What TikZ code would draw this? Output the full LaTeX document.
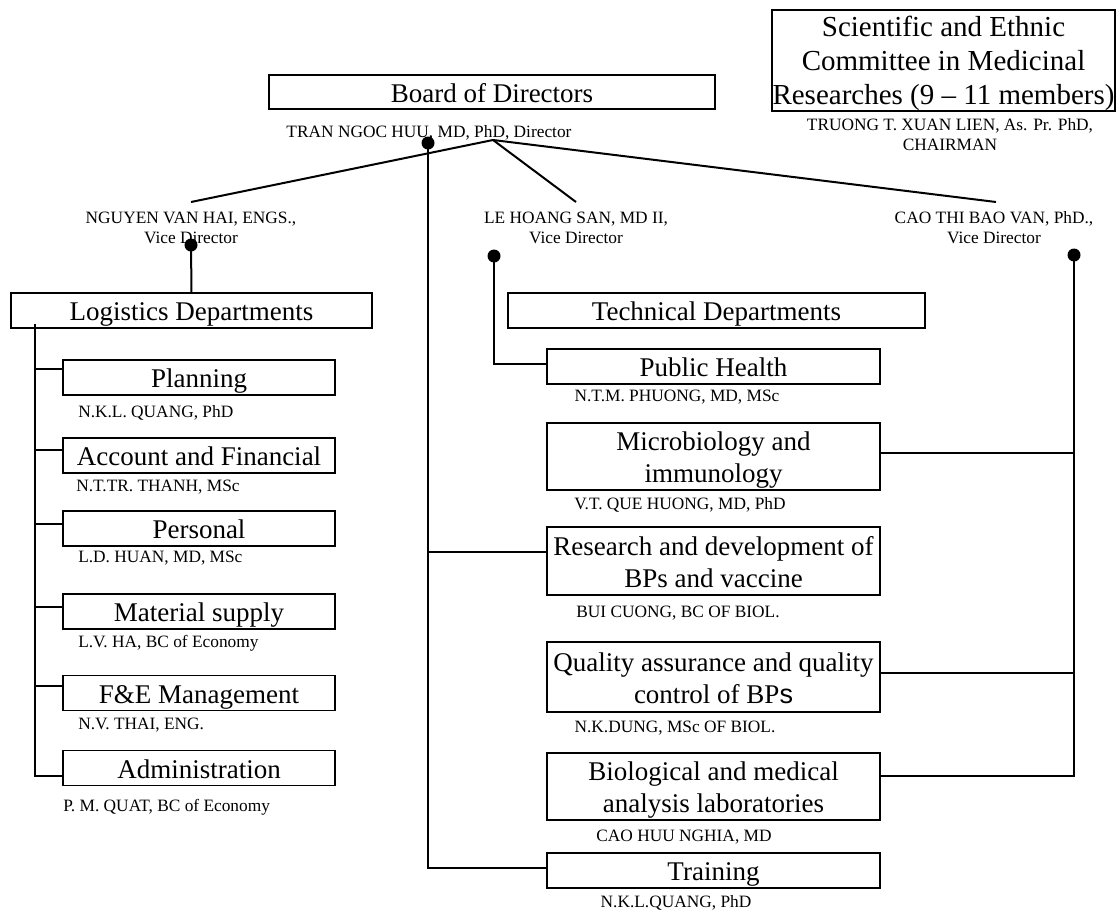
\documentclass[tikz,border=0pt]{standalone}
\usepackage{fontspec}
\setmainfont{Liberation Serif}
\newfontfamily\sansf{Liberation Sans}
\newcommand{\boxfont}{\fontsize{20.25pt}{24pt}\selectfont}
\newcommand{\comfont}{\fontsize{21.75pt}{25.5pt}\selectfont}
\newcommand{\lblfont}{\fontsize{13pt}{15pt}\selectfont}
\newcommand{\tstr}{\leavevmode\vrule width 0pt height 20.5pt depth 0pt\relax}
\newcommand{\bstr}{\vrule width 0pt height 0pt depth 5pt\relax}
\newcommand{\ctstr}{\leavevmode\vrule width 0pt height 20pt depth 0pt\relax}
\begin{document}
\begin{tikzpicture}[x=0.75pt,y=-0.75pt,
  bx/.style 2 args={draw=black, line width=0.9pt, minimum width=#1*0.75pt,
    minimum height=#2*0.75pt, inner sep=0pt, align=center, font=\boxfont},
  lbl/.style={inner sep=0pt, align=center, font=\lblfont},
  jdot/.style={circle, fill=black, inner sep=0pt, minimum size=9.75pt},
  conn/.style={line width=1.5pt}]
\useasboundingbox (0,0) rectangle (1117,910);
\fill[white] (0,0) rectangle (1117,910);

% top
\node[bx={446}{34}] (board) at (492,92) {\tstr\bstr Board of Directors};
\node[bx={343}{101}, font=\comfont] (committee) at (943.5,60.5)
  {\ctstr Scientific and Ethnic\\Committee in Medicinal\\Researches (9 – 11 members)};
\node[lbl] (chair) at (950,135) {TRUONG T. XUAN LIEN, As. Pr. PhD,\\CHAIRMAN};
\node[lbl] (director) at (429,133) {TRAN NGOC HUU, MD, PhD, Director};
\node[lbl] (vd1) at (191,228) {NGUYEN VAN HAI, ENGS.,\\Vice Director};
\node[lbl] (vd2) at (576,228) {LE HOANG SAN, MD II,\\Vice Director};
\node[lbl] (vd3) at (994,228) {CAO THI BAO VAN, PhD.,\\Vice Director};

% logistics
\node[bx={361}{35}] (logistics) at (191.5,310.5) {\tstr\bstr Logistics Departments};
\node[bx={272}{35}] (planning) at (199,377.5) {\tstr\bstr Planning};
\node[bx={272}{35}] (account) at (199,455.5) {\tstr\bstr Account and Financial};
\node[bx={272}{35}] (personal) at (199,528.5) {\tstr\bstr Personal};
\node[bx={272}{35}] (material) at (199,611.5) {\tstr\bstr Material supply};
\node[bx={272}{35}] (fe) at (199,693) {\tstr\bstr F\&E Management};
\node[bx={272}{35}] (admin) at (199,768) {\tstr\bstr Administration};
\node[lbl,anchor=west] (lplan) at (78,413) {N.K.L. QUANG, PhD};
\node[lbl,anchor=west] (lacc) at (76,487) {N.T.TR. THANH, MSc};
\node[lbl,anchor=west] (lpers) at (78,558) {L.D. HUAN, MD, MSc};
\node[lbl,anchor=west] (lmat) at (78,643) {L.V. HA, BC of Economy};
\node[lbl,anchor=west] (lfe) at (78,725) {N.V. THAI, ENG.};
\node[lbl,anchor=west] (ladm) at (63,807) {P. M. QUAT, BC of Economy};

% technical
\node[bx={417}{35}] (technical) at (716.5,310.5) {\tstr\bstr Technical Departments};
\node[bx={333}{35}] (public) at (713.5,366.5) {\tstr\bstr Public Health};
\node[bx={333}{67}] (micro) at (713.5,456.5) {\tstr Microbiology and\\immunology\bstr};
\node[bx={333}{68}] (research) at (713.5,561) {\tstr Research and development of\\BPs and vaccine\bstr};
\node[bx={333}{70}] (quality) at (713.5,677) {\tstr Quality assurance and quality\\control of BP{\sansf s}\bstr};
\node[bx={333}{67}] (bio) at (713.5,786.5) {\tstr Biological and medical\\analysis laboratories\bstr};
\node[bx={333}{35}] (training) at (713.5,870.5) {\tstr\bstr Training};
\node[lbl] (lpub) at (677,397) {N.T.M. PHUONG, MD, MSc};
\node[lbl] (lmic) at (680,505) {V.T. QUE HUONG, MD, PhD};
\node[lbl] (lres) at (678,613) {BUI CUONG, BC OF BIOL.};
\node[lbl] (lqua) at (675,728) {N.K.DUNG, MSc OF BIOL.};
\node[lbl] (lbio) at (684,837) {CAO HUU NGHIA, MD};
\node[lbl] (ltra) at (676,903) {N.K.L.QUANG, PhD};

% dots and coordinates
\node[jdot] (ddot) at (428,143) {};
\node[jdot] (ndot) at (191,245) {};
\node[jdot] (ldot) at (494,256) {};
\node[jdot] (cdot) at (1074,255) {};
\coordinate (hub) at (493,140);
\coordinate (e1) at (191,202);
\coordinate (e2) at (576,202);
\coordinate (e3) at (996,202);
\coordinate (ltop) at (35,324);

% connectors
\draw[conn] (hub) -- (e1);
\draw[conn] (hub) -- (e2);
\draw[conn] (hub) -- (e3);
\draw[conn] (ndot.center) -- (logistics.north);
\draw[conn] (ltop) |- ([yshift=6.4pt]planning.west);
\draw[conn] (ltop) |- ([yshift=4.1pt]account.west);
\draw[conn] (ltop) |- ([yshift=3.4pt]personal.west);
\draw[conn] (ltop) |- ([yshift=3.4pt]material.west);
\draw[conn] (ltop) |- ([yshift=5.25pt]fe.west);
\draw[conn] (ltop) |- ([yshift=-6pt]admin.west);
\draw[conn] (ddot.center) |- ([yshift=6.75pt]research.west);
\draw[conn] (ddot.center) |- ([yshift=1.9pt]training.west);
\draw[conn] (ldot.center) |- ([yshift=1.9pt]public.west);
\draw[conn] (cdot.center) |- ([yshift=2.6pt]micro.east);
\draw[conn] (cdot.center) |- ([yshift=3pt]quality.east);
\draw[conn] (cdot.center) |- ([yshift=7.9pt]bio.east);
\end{tikzpicture}
\end{document}
